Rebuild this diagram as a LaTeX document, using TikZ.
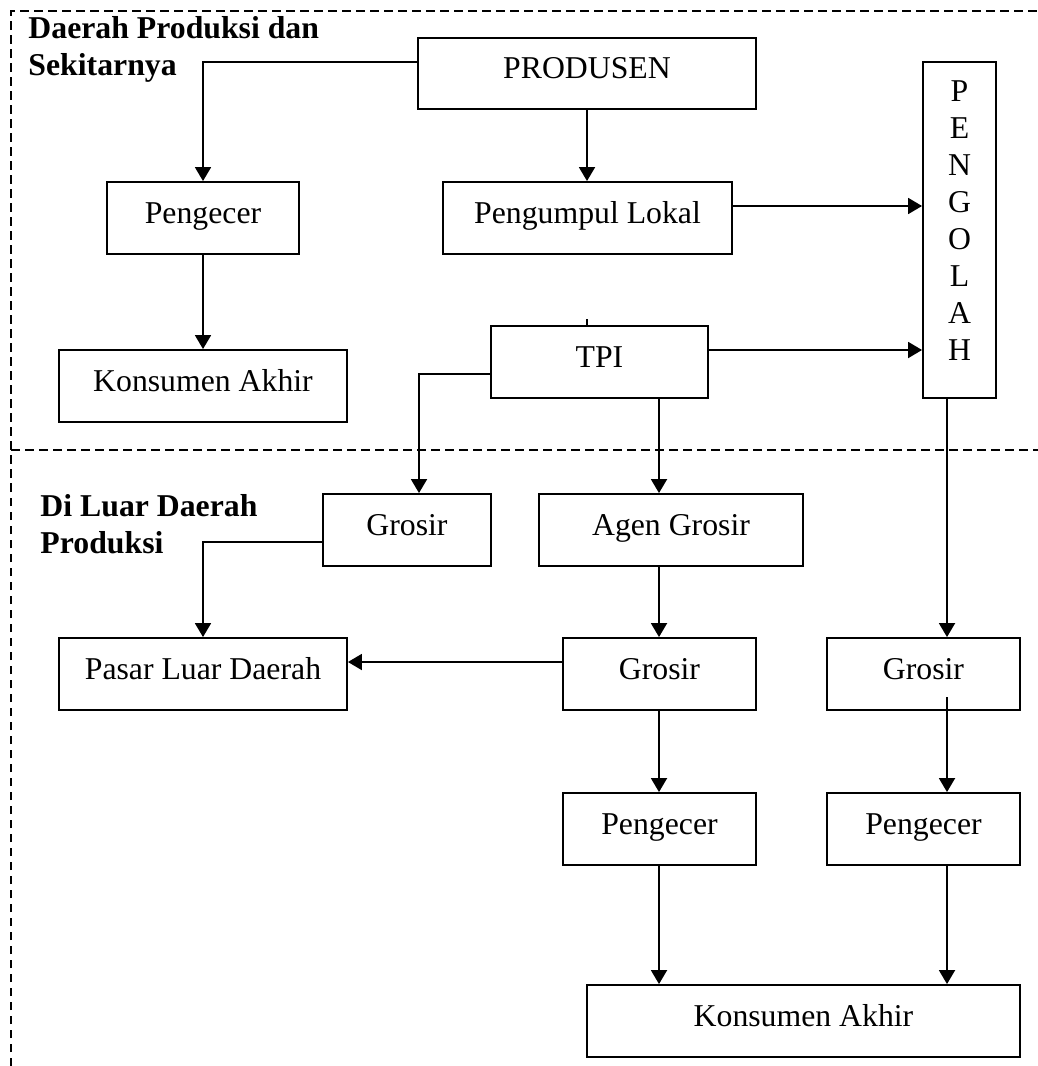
\documentclass[tikz,border=0pt]{standalone}
\usepackage{fontspec}
\setmainfont{Liberation Serif}
\usetikzlibrary{arrows.meta}

\newcommand\chainfont{\fontsize{12.7}{14.8}\selectfont}

\tikzset{
  box/.style={draw, line width=0.75pt, inner sep=0pt, text height=8.4pt, text depth=4.2pt},
  link/.style={line width=0.75pt, -{Triangle[length=5.6pt,width=6.4pt]}},
  zone/.style={line width=0.55pt, dash pattern=on 3.4pt off 2.2pt},
  zonetitle/.style={font=\chainfont\bfseries, align=left, anchor=north west, inner sep=0pt}
}

\begin{document}
\begin{tikzpicture}[x=0.4pt, y=-0.4pt, font=\chainfont]

  \useasboundingbox (0,0) rectangle (1038,1066);

% ZONES
  \draw[zone] (11,1066) -- (11,11) -- (1038,11);
  \draw[zone] (11,450) -- (1038,450);
  \node[zonetitle] (zonein)  at (28,16)  {Daerah Produksi dan\\Sekitarnya};
  \node[zonetitle] (zoneout) at (40,494) {Di Luar Daerah\\Produksi};

% Daerah produksi
  \node[box, minimum width=338*0.4pt, minimum height=71*0.4pt] (produsen)  at (587,73.5)  {PRODUSEN};
  \node[box, minimum width=192*0.4pt, minimum height=72*0.4pt] (pengecerA) at (203,218)   {Pengecer};
  \node[box, minimum width=289*0.4pt, minimum height=72*0.4pt] (pengumpul) at (587.5,218) {Pengumpul Lokal};
  \node[box, minimum width=288*0.4pt, minimum height=72*0.4pt] (konsumenA) at (203,386)   {Konsumen Akhir};
  \node[box, minimum width=217*0.4pt, minimum height=72*0.4pt] (tpi)       at (599.5,362) {TPI};
  \node[box, minimum width=73*0.4pt,  minimum height=336*0.4pt, text height=, text depth=] (pengolah) at (959.5,230) {};
  \node[align=center, inner sep=0pt] (pengolahtext) at (959.5,220.5) {P\\E\\N\\G\\O\\L\\A\\H};

% Luar daerah produksi
  \node[box, minimum width=168*0.4pt, minimum height=72*0.4pt] (grosirA)   at (407,530)    {Grosir};
  \node[box, minimum width=264*0.4pt, minimum height=72*0.4pt] (agen)      at (671,530)    {Agen Grosir};
  \node[box, minimum width=288*0.4pt, minimum height=72*0.4pt] (pasar)     at (203,674)    {Pasar Luar Daerah};
  \node[box, minimum width=193*0.4pt, minimum height=72*0.4pt] (grosirB)   at (659.5,674)  {Grosir};
  \node[box, minimum width=193*0.4pt, minimum height=72*0.4pt] (grosirC)   at (923.5,674)  {Grosir};
  \node[box, minimum width=193*0.4pt, minimum height=72*0.4pt] (pengecerB) at (659.5,829)  {Pengecer};
  \node[box, minimum width=193*0.4pt, minimum height=72*0.4pt] (pengecerC) at (923.5,829)  {Pengecer};
  \node[box, minimum width=433*0.4pt, minimum height=72*0.4pt] (konsumenB) at (803.5,1021) {Konsumen Akhir};

% arrows
  \draw[link] (produsen.west |- 0,62) -| (pengecerA.north);
  \draw[link] (produsen.south) -- (produsen.south |- pengumpul.north);
  \draw[link] (pengumpul.east |- 0,206) -- (pengolah.west |- 0,206);
  \draw[link] (pengecerA.south) -- (konsumenA.north);
  \draw[line width=0.75pt] (tpi.north -| produsen.south) -- (587,319);
  \draw[link] (tpi.east |- 0,350) -- (pengolah.west |- 0,350);
  \draw[link] (tpi.west |- 0,374) -| (grosirA.north -| 419,0);
  \draw[link] (tpi.south -| 659,0) -- (agen.north -| 659,0);
  \draw[link] (pengolah.south -| 947,0) -- (grosirC.north -| 947,0);
  \draw[link] (grosirA.west |- 0,542) -| (pasar.north);
  \draw[link] (agen.south -| 659,0) -- (grosirB.north -| 659,0);
  \draw[link] (grosirB.west |- 0,662) -- (pasar.east |- 0,662);
  \draw[link] (grosirB.south -| 659,0) -- (pengecerB.north -| 659,0);
  \coordinate (grosirCstart) at (947,697);
  \draw[link] (grosirCstart) -- (pengecerC.north -| grosirCstart);
  \draw[link] (pengecerB.south -| 659,0) -- (konsumenB.north -| 659,0);
  \draw[link] (pengecerC.south -| 947,0) -- (konsumenB.north -| 947,0);

\end{tikzpicture}
\end{document}
